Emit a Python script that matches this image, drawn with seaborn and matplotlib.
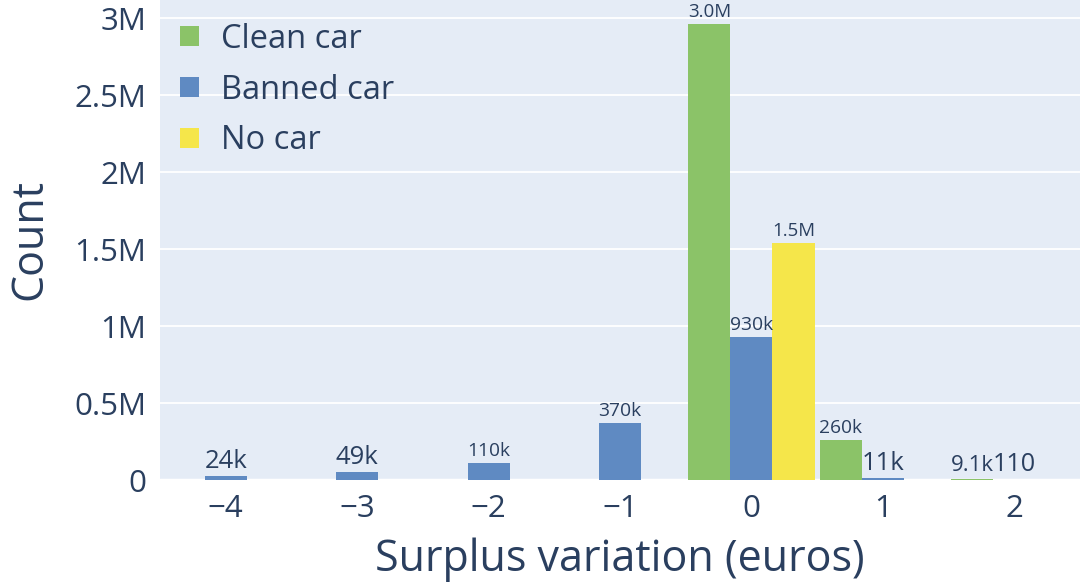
import matplotlib
matplotlib.use("Agg")
import matplotlib.pyplot as plt
from matplotlib.transforms import offset_copy
import seaborn as sns
import pandas as pd
import numpy as np

categories = [-4, -3, -2, -1, 0, 1, 2]
series_names = ["Clean car", "Banned car", "No car"]
clean_car = [0, 0, 0, 0, 2960000, 260000, 9100]
banned_car = [24000, 49000, 110000, 370000, 930000, 11000, 110]
no_car = [0, 0, 0, 0, 1540000, 0, 0]
tick_labels = ["\u22124", "\u22123", "\u22122", "\u22121", "0", "1", "2"]
y_ticks = [0, 500000, 1000000, 1500000, 2000000, 2500000, 3000000]
y_tick_labels = ["0", "0.5M", "1M", "1.5M", "2M", "2.5M", "3M"]

colors = {"Clean car": "#8bc368", "Banned car": "#5f8ac2", "No car": "#f5e64a"}
TXT = "#2a3f5f"
FONT = "Open Sans"

rows = []
for name, vals in zip(series_names, [clean_car, banned_car, no_car]):
    for c, v in zip(categories, vals):
        if v > 0:
            rows.append({"x": c, "series": name, "count": v})
df = pd.DataFrame(rows)

sns.set_theme(style="darkgrid")
plt.rcParams["font.family"] = [FONT, "DejaVu Sans"]

fig = plt.figure(figsize=(10.8, 5.82), dpi=100)
ax = fig.add_axes([160 / 1080, 1 - 480 / 582, 1 - 160 / 1080, 480 / 582])
ax.set_facecolor("#e5ecf6")

sns.barplot(data=df, x="x", y="count", hue="series", order=categories,
            hue_order=series_names, palette=colors, width=0.96, gap=0,
            saturation=1, ax=ax, errorbar=None, edgecolor="none")

ax.set_xlim(-0.5, 6.5)
ax.set_ylim(0, 3.117e6)
ax.set_yticks(y_ticks)
ax.set_yticklabels(y_tick_labels)
ax.set_xticks(range(len(categories)))
ax.set_xticklabels(tick_labels)
ax.grid(axis="y", color="white", linewidth=1.3)
ax.grid(axis="x", visible=False)
ax.axhline(0, color="white", linewidth=2.5, zorder=0.5)
for s in ax.spines.values():
    s.set_visible(False)
ax.tick_params(axis="both", labelsize=22.5, colors=TXT, length=0, pad=10)
ax.set_xlabel("Surplus variation (euros)", fontsize=31, color=TXT, labelpad=10)
ax.set_ylabel("Count", fontsize=31, color=TXT, labelpad=16)


def si2(v):
    for div, suf in [(1e6, "M"), (1e3, "k"), (1, "")]:
        if v >= div:
            x = v / div
            if x >= 10:
                return f"{round(x):.0f}{suf}"
            return f"{x:.1f}{suf}"
    return str(v)


fig.canvas.draw()
renderer = fig.canvas.get_renderer()
for patch in ax.patches:
    h = patch.get_height()
    if not h or h <= 0 or np.isnan(h):
        continue
    xc = patch.get_x() + patch.get_width() / 2
    bw_px = ax.transData.transform((patch.get_x() + patch.get_width(), 0))[0] - \
        ax.transData.transform((patch.get_x(), 0))[0]
    label = si2(h)
    t = ax.text(xc, h, label, ha="center", va="bottom", fontsize=25, color=TXT)
    tw = t.get_window_extent(renderer).width
    fs = min(25, 25 * (bw_px + 1) / tw)
    t.set_fontsize(fs)
    t.set_transform(offset_copy(ax.transData, fig=fig, y=2, units="points"))

leg = ax.legend(loc="upper left", frameon=False, fontsize=23.5,
                handlelength=0.56, handleheight=0.56, handletextpad=0.7,
                labelspacing=0.55, borderaxespad=0, borderpad=0,
                bbox_to_anchor=(0.022, 0.953))
for txt in leg.get_texts():
    txt.set_color(TXT)

fig.savefig("out.png", dpi=100)
